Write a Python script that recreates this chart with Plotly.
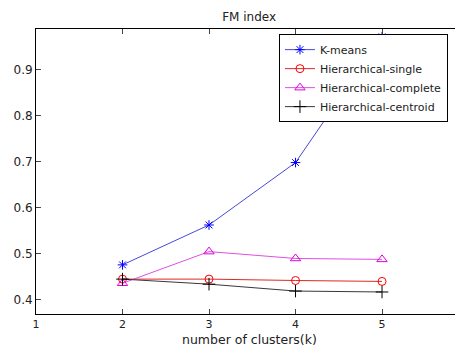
import plotly.graph_objects as go

k = [2, 3, 4, 5]
kmeans = [0.475, 0.562, 0.698, 0.972]
single = [0.444, 0.444, 0.441, 0.439]
complete = [0.435, 0.504, 0.489, 0.487]
centroid = [0.444, 0.433, 0.418, 0.416]

x_ticks = [1, 2, 3, 4, 5]
y_ticks = [0.4, 0.5, 0.6, 0.7, 0.8, 0.9]

FONT = "DejaVu Sans, Verdana, sans-serif"
TXT = "#222"

fig = go.Figure()
series = [
    ("K-means", kmeans, "#4848d8", "blue", "asterisk-open", 8),
    ("Hierarchical-single", single, "#e02828", "red", "circle-open", 8),
    ("Hierarchical-complete", complete, "#e050e0", "#e000e0", "triangle-up-open", 9),
    ("Hierarchical-centroid", centroid, "#383838", "black", "cross-thin-open", 9),
]
for name, vals, lc, mc, sym, sz in series:
    fig.add_trace(go.Scatter(
        x=k, y=vals, name=name, mode="lines+markers",
        line=dict(color=lc, width=1),
        marker=dict(symbol=sym, size=sz, color=mc, line=dict(color=mc, width=1)),
    ))

# page body has an 8px margin; figure is sized/offset to compensate
fig.update_layout(
    width=455, height=339,
    margin=dict(l=28, r=0, t=21, b=33),
    paper_bgcolor="white", plot_bgcolor="white",
    font=dict(family=FONT, size=12, color=TXT),
    title=dict(text="FM index", x=0.53, xanchor="center", y=0.973, yanchor="middle",
               font=dict(size=12, family=FONT, color=TXT)),
    showlegend=True,
    legend=dict(x=0.569, y=0.982, xanchor="left", yanchor="top",
                bgcolor="white", bordercolor="black", borderwidth=1,
                font=dict(size=11, family=FONT, color=TXT),
                tracegroupgap=0, itemwidth=30),
    xaxis=dict(range=[1, 5.936], tickvals=x_ticks, ticks="inside", ticklen=5,
               showline=True, linecolor="black", linewidth=1, mirror="ticks",
               showgrid=False, zeroline=False, automargin=False,
               tickfont=dict(size=11)),
    yaxis=dict(range=[0.368, 0.989], tickvals=y_ticks, tickformat=".1f",
               ticks="inside", ticklen=5, automargin=False,
               showline=True, linecolor="black", linewidth=1, mirror="ticks",
               showgrid=False, zeroline=False, tickfont=dict(size=12)),
    annotations=[dict(text="number of clusters(k)", xref="paper", yref="paper",
                      x=0.5, y=-0.09, xanchor="center", yanchor="middle",
                      showarrow=False, font=dict(size=12.5, family=FONT, color=TXT))],
)

fig.write_html("out.html")
